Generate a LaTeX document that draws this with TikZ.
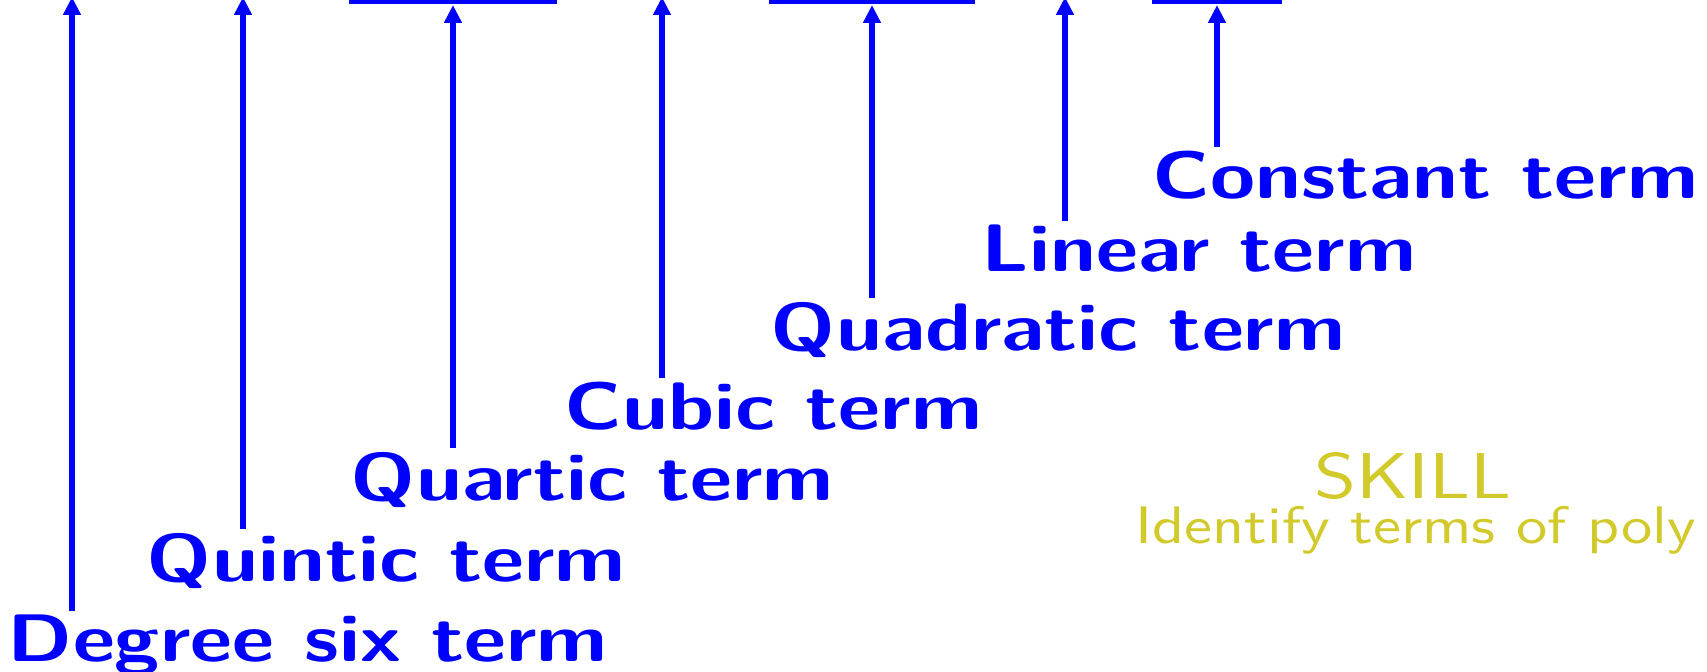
\documentclass[tikz,border=0pt]{standalone}
\usepackage{tikz}
\usetikzlibrary{positioning, arrows.meta, calc}

\begin{document}
\begin{tikzpicture}[
  x=0.25pt, y=-0.25pt,
  term/.style={font=\fontsize{16.8}{20}\sffamily\bfseries, text=blue, xscale=1.22,
    inner xsep=0pt, inner ysep=1pt, anchor=base west},
  skl/.style={text=yellow!80!black, inner sep=0pt, anchor=base},
  pt/.style={draw=blue, line width=1.5pt, -{Triangle[width=4.25pt, length=4.5pt]}},
  bar/.style={draw=blue, line width=1.5pt},
]
  \useasboundingbox (0,0) rectangle (1707,672);

  % terms of the polynomial (cut off above)
  \draw[bar] (349,1.5) -- (557,1.5);
  \draw[bar] (769,1.5) -- (975,1.5);
  \draw[bar] (1152,1.5) -- (1282,1.5);

  % where the arrows point
  \coordinate (p6) at (72,-3);
  \coordinate (p5) at (243,-3);
  \coordinate (p4) at (453,5);
  \coordinate (p3) at (662,-3);
  \coordinate (p2) at (872,5);
  \coordinate (p1) at (1065,-3);
  \coordinate (p0) at (1217,5);

  % labels
  \node[term] (deg6) at (7,662) {Degree six term};
  \node[term] (quin) at (146,582) {Quintic term};
  \node[term] (quar) at (350,501) {Quartic term};
  \node[term] (cub) at (564,430) {Cubic term};
  \node[term] (quad) at (770,351) {Quadratic term};
  \node[term] (lin) at (981,272) {Linear term};
  \node[term] (con) at (1152,199) {Constant term};

  \draw[pt] (p6 |- deg6.north) -- (p6);
  \draw[pt] (p5 |- quin.north) -- (p5);
  \draw[pt] (p4 |- quar.north) -- (p4);
  \draw[pt] (p3 |- cub.north) -- (p3);
  \draw[pt] (p2 |- quad.north) -- (p2);
  \draw[pt] (p1 |- lin.north) -- (p1);
  \draw[pt] (p0 |- con.north) -- (p0);

  % skill
  \node[skl, xscale=1.24, font=\fontsize{16.2}{19}\sffamily] (skill) at (1413,499) {SKILL};
  \node[skl, xscale=1.21, font=\fontsize{13.2}{16}\sffamily] (goal) at (1416,544) {Identify terms of poly};
\end{tikzpicture}
\end{document}
